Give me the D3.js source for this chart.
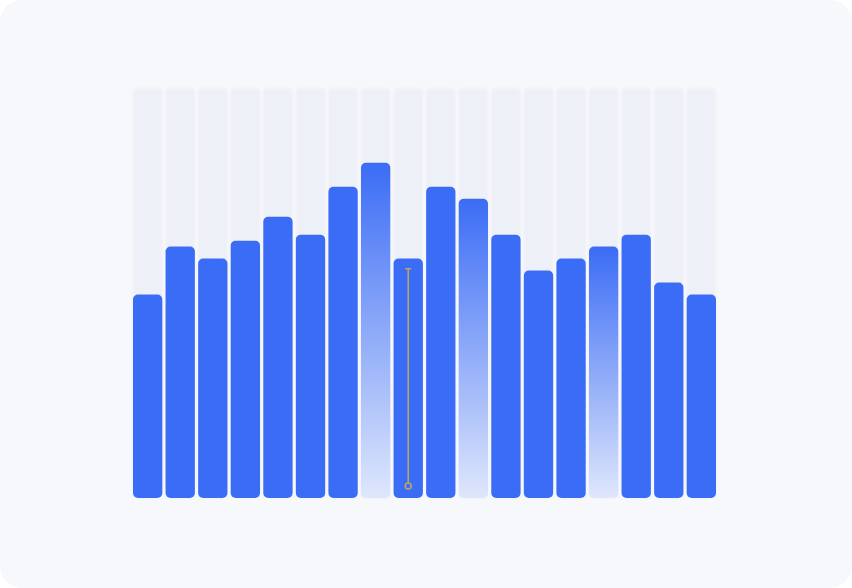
<!DOCTYPE html>
<html>
<head>
<meta charset="utf-8">
<script src="https://cdn.jsdelivr.net/npm/d3@7"></script>
<style>
    html, body { margin: 0; padding: 0; background: #ffffff; }
    svg { display: block; }
</style>
</head>
<body>
<div id="chart"></div>
<script>
// Data

const categories = ['1', '2', '3', '4', '5', '6', '7', '8', '9', '10', '11', '12', '13', '14', '15', '16', '17', '18'];
const values = [34, 42, 40, 43, 47, 44, 52, 56, 40, 52, 50, 44, 38, 40, 42, 44, 36, 34];
const faded = ['8', '11', '15'];           // bars drawn with the fading gradient
const errorBars = [{category: '9', low: 2, high: 38.3}];
const maxValue = 68.5;                      // the light track behind each bar

function barChart() {
    let svg;
    let width = 852;
    let height = 588;
    let margin = {top: 88, bottom: 90, left: 133, right: 136};
    let chartWidth;
    let chartHeight;
    let xScale;
    let yScale;

    const colors = {
        card: '#f7f8fb',
        track: '#eef0f8',
        bar: '#3b6cf5',
        fadeEnd: '#dfe7fc',
        error: '#c4a55c'
    };

    function exports(_selection) {
        _selection.each(function() {
            chartWidth = width - margin.left - margin.right;
            chartHeight = height - margin.top - margin.bottom;

            buildScales();
            buildSVG(this);
            drawTracks();
            drawBars();
            drawErrors();
        });
    }

    function buildScales() {
        xScale = d3.scaleBand()
            .range([0, chartWidth])
            .paddingInner(0.1)
            .paddingOuter(0)
            .domain(categories);
        yScale = d3.scaleLinear()
            .range([chartHeight, 0])
            .domain([0, maxValue]);
    }

    function buildSVG(container) {
        const root = d3.select(container)
            .append('svg')
            .attr('width', width)
            .attr('height', height);

        const defs = root.append('defs');
        const grad = defs.append('linearGradient')
            .attr('id', 'fade')
            .attr('x1', 0).attr('y1', 0)
            .attr('x2', 0).attr('y2', 1);
        grad.append('stop').attr('offset', '0%').attr('stop-color', colors.bar);
        grad.append('stop').attr('offset', '100%').attr('stop-color', colors.fadeEnd);

        defs.append('filter')
            .attr('id', 'soft')
            .attr('x', '-20%').attr('y', '-5%')
            .attr('width', '140%').attr('height', '110%')
            .append('feGaussianBlur')
            .attr('stdDeviation', 1.2);

        root.append('rect')
            .attr('width', width)
            .attr('height', height)
            .attr('rx', 22)
            .attr('fill', colors.card);

        svg = root.append('g')
            .attr('transform', `translate(${margin.left},${margin.top})`);
    }

    function drawTracks() {
        svg.append('g')
            .attr('filter', 'url(#soft)')
            .selectAll('.track')
            .data(categories)
            .enter()
            .append('rect')
            .classed('track', true)
            .attr('x', d => xScale(d))
            .attr('y', yScale(maxValue))
            .attr('width', xScale.bandwidth())
            .attr('height', chartHeight - yScale(maxValue))
            .attr('rx', 4)
            .attr('fill', colors.track);
    }

    function drawBars() {
        const data = categories.map((c, i) => ({category: c, value: values[i]}));
        svg.append('g')
            .selectAll('.bar')
            .data(data)
            .enter()
            .append('rect')
            .classed('bar', true)
            .attr('x', d => xScale(d.category))
            .attr('y', d => yScale(d.value))
            .attr('width', xScale.bandwidth())
            .attr('height', d => chartHeight - yScale(d.value))
            .attr('rx', 5)
            .attr('fill', d => faded.includes(d.category) ? 'url(#fade)' : colors.bar);
    }

    function drawErrors() {
        const g = svg.append('g')
            .selectAll('.error')
            .data(errorBars)
            .enter()
            .append('g')
            .classed('error', true)
            .attr('transform', d => `translate(${xScale(d.category) + xScale.bandwidth() / 2},0)`);

        g.append('line')
            .attr('y1', d => yScale(d.high))
            .attr('y2', d => yScale(d.low) - 3.5)
            .attr('stroke', colors.error)
            .attr('stroke-width', 1.5);
        g.append('line')
            .attr('x1', -3).attr('x2', 3)
            .attr('y1', d => yScale(d.high))
            .attr('y2', d => yScale(d.high))
            .attr('stroke', colors.error)
            .attr('stroke-width', 1.5);
        g.append('circle')
            .attr('cy', d => yScale(d.low))
            .attr('r', 3)
            .attr('fill', 'none')
            .attr('stroke', colors.error)
            .attr('stroke-width', 1.5);
    }

    return exports;
}

d3.select('#chart').call(barChart());
</script>
</body>
</html>
